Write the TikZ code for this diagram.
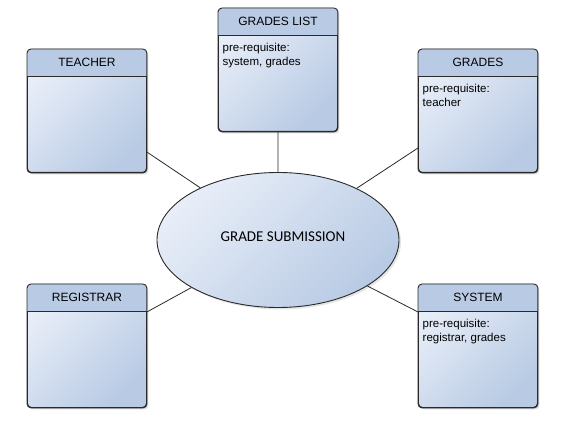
\documentclass[tikz,border=0pt]{standalone}
\usepackage{fontspec}
\setmainfont{Liberation Sans}
\newfontfamily\calfont{Carlito}
\usetikzlibrary{shapes.geometric,shadows,calc}
\definecolor{hdr}{HTML}{B9CAE4}
\definecolor{bodylight}{HTML}{E8EEF8}
\definecolor{bodydark}{HTML}{B8CAE4}
\definecolor{edge}{HTML}{2A2A2A}
\tikzset{
  boxbody/.style={draw=edge, line width=0.9pt, rounded corners=4pt,
    minimum width=119pt, minimum height=123pt, inner sep=0pt,
    top color=bodylight, bottom color=bodydark, shading angle=45,
    drop shadow={shadow xshift=2pt, shadow yshift=-2pt, opacity=0.25, fill=gray}},
  titletext/.style={font=\fontsize{12}{14}\selectfont, inner sep=0pt},
  bodytext/.style={font=\fontsize{11.5}{13.5}\selectfont, inner sep=0pt, align=left, anchor=north west},
  conn/.style={draw=edge, line width=0.8pt},
  ell/.style={ellipse, draw=edge, line width=0.9pt, minimum width=242pt, minimum height=135pt,
    top color=bodylight, bottom color=bodydark, shading angle=45, inner sep=0pt,
    drop shadow={shadow xshift=2pt, shadow yshift=-2pt, opacity=0.2, fill=gray}}
}
\newcommand\umlbox[5]{%
  \node[boxbody, anchor=north west] (#1) at (#2,#3) {};
  \begin{scope}
    \clip[rounded corners=4pt] (#1.north west) rectangle (#1.south east);
    \fill[hdr] (#1.north west) rectangle ($(#1.north east)+(0,27)$);
  \end{scope}
  \draw[edge, line width=0.9pt, rounded corners=4pt] (#1.north west) rectangle (#1.south east);
  \draw[edge, line width=0.8pt] ($(#1.north west)+(0,27)$) -- ($(#1.north east)+(0,27)$);
  \node[titletext] (#1-title) at ($(#1.north)+(0,13.5)$) {#4};
  \node[bodytext] (#1-body) at ($(#1.north west)+(4.5,35)$) {#5};
}
\begin{document}
\begin{tikzpicture}[x=1pt,y=-1pt]
\useasboundingbox[fill=white] (0,0) rectangle (562,427);
\node[ell] (gs) at (278,240) {};
\node[font=\calfont\fontsize{15}{17}\selectfont, inner sep=0pt] (gstext) at (283,237) {GRADE SUBMISSION};
\umlbox{teacher}{27}{49}{TEACHER}{}
\umlbox{gradeslist}{218}{8}{GRADES LIST}{pre-requisite:\\system, grades}
\umlbox{grades}{418}{49}{GRADES}{pre-requisite:\\teacher}
\umlbox{registrar}{27}{284}{REGISTRAR}{}
\umlbox{system}{418}{284}{SYSTEM}{pre-requisite:\\registrar, grades}
\coordinate (c1) at ($(teacher.north east)+(0,103)$);
\coordinate (c2) at ($(grades.north west)+(0,99)$);
\coordinate (c3) at ($(registrar.north east)+(0,28)$);
\coordinate (c4) at ($(system.north west)+(0,28)$);
\draw[conn] (c1) -- (gs);
\draw[conn] (c2) -- (gs);
\draw[conn] (c3) -- (gs);
\draw[conn] (c4) -- (gs);
\draw[conn] (gradeslist.south) -- (gs.north);
\end{tikzpicture}
\end{document}
